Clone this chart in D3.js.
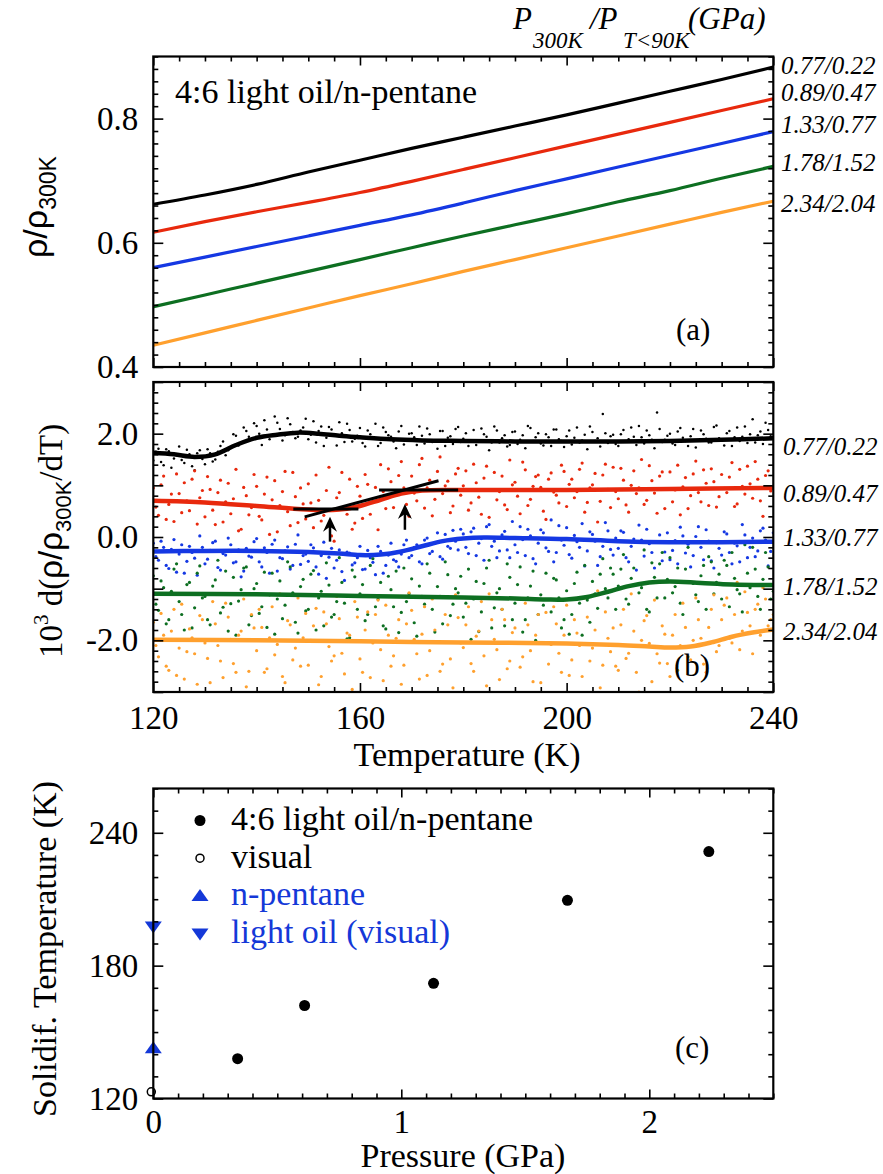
<!DOCTYPE html>
<html>
<head>
<meta charset="utf-8">
<script src="https://cdn.jsdelivr.net/npm/d3@7"></script>
<style>
  body { margin: 0; background: #fff; }
  svg text { font-family: "Liberation Serif", "Times New Roman", serif; fill: #000; }
</style>
</head>
<body>
<svg id="fig" width="883" height="1174"></svg>
<script>
// ---- panel (a): rho / rho_300K vs temperature ----
const tempGrid  = [120, 130, 140, 150, 160, 170, 180, 190, 200, 210, 220, 230, 240];
const rhoBlack  = [0.662, 0.677, 0.694, 0.714, 0.733, 0.752, 0.770, 0.788, 0.806, 0.825, 0.844, 0.863, 0.883];
const rhoRed    = [0.617, 0.634, 0.650, 0.665, 0.681, 0.699, 0.718, 0.737, 0.756, 0.775, 0.794, 0.813, 0.832];
const rhoBlue   = [0.560, 0.577, 0.594, 0.611, 0.628, 0.645, 0.664, 0.684, 0.703, 0.722, 0.741, 0.760, 0.779];
const rhoGreen  = [0.497, 0.516, 0.535, 0.554, 0.573, 0.592, 0.611, 0.629, 0.647, 0.666, 0.684, 0.704, 0.723];
const rhoOrange = [0.435, 0.455, 0.475, 0.495, 0.515, 0.534, 0.554, 0.573, 0.592, 0.611, 0.630, 0.649, 0.667];
const pressureLabels = ['0.77/0.22', '0.89/0.47', '1.33/0.77', '1.78/1.52', '2.34/2.04'];

// ---- panel (b): smoothed derivative (10^3 units, offset per run) ----
const fitBlackT  = [120, 124, 128, 132, 136, 140, 144, 148, 152, 156, 160, 166, 172, 180, 190, 200, 210, 220, 230, 240];
const fitBlack   = [1.63, 1.60, 1.55, 1.60, 1.78, 1.92, 1.98, 2.02, 2.00, 1.96, 1.93, 1.89, 1.87, 1.86, 1.85, 1.85, 1.85, 1.86, 1.88, 1.91];
const fitRedT    = [120, 130, 140, 148, 152, 156, 160, 164, 168, 172, 180, 200, 220, 240];
const fitRed     = [0.70, 0.67, 0.60, 0.54, 0.52, 0.53, 0.60, 0.72, 0.84, 0.90, 0.91, 0.91, 0.93, 0.95];
const fitBlueT   = [120, 130, 140, 150, 156, 160, 164, 168, 172, 176, 180, 184, 190, 200, 210, 220, 230, 240];
const fitBlue    = [-0.28, -0.27, -0.27, -0.29, -0.32, -0.35, -0.34, -0.28, -0.18, -0.08, -0.03, -0.01, -0.02, -0.04, -0.08, -0.10, -0.10, -0.09];
const fitGreenT  = [120, 140, 160, 180, 190, 196, 200, 204, 208, 212, 216, 220, 226, 232, 240];
const fitGreen   = [-1.10, -1.11, -1.14, -1.17, -1.19, -1.21, -1.21, -1.16, -1.06, -0.95, -0.88, -0.86, -0.89, -0.92, -0.93];
const fitOrangeT = [120, 140, 160, 180, 200, 210, 216, 220, 224, 228, 232, 236, 240];
const fitOrange  = [-1.99, -2.00, -2.02, -2.04, -2.06, -2.09, -2.12, -2.14, -2.12, -2.04, -1.93, -1.85, -1.79];

// raw points (x100): "A" sets at whole kelvins, "B" sets half a kelvin later
const dotTemps = d3.range(120, 241);
const dotTempsHalf = d3.range(120.5, 240, 1);
const dotsBlackA = [148,171,139,166,152,175,143,160,129,168, 141,162,150,176,158,173,196,182,205,189,
  215,178,208,196,221,187,230,203,194,212, 189,224,205,176,213,198,222,184,207,190,
  211,175,199,219,182,203,194,172,215,189, 201,178,196,210,184,171,205,192,180,213,
  190,176,207,185,199,168,214,183,197,178, 204,188,172,211,193,181,199,176,208,186,
  195,179,212,187,170,203,191,238,182,198, 176,207,189,194,215,181,197,172,209,188,
  200,178,211,186,195,173,206,190,183,216, 189,201,176,212,194,182,228,197,180,207, 193];
const dotsBlackB = [165,145,170,134,158,149,169,137,162,151, 170,146,165,185,168,199,177,212,194,220,
  200,226,189,233,209,197,218,191,206,229, 198,183,214,192,208,177,201,219,185,196,
  182,206,190,176,212,197,185,204,179,200, 193,214,181,199,187,205,176,195,209,184,
  201,187,178,210,194,183,206,191,175,203, 180,197,215,186,201,177,193,208,189,174,
  206,192,183,198,214,186,175,201,195,180, 199,185,212,178,193,206,188,241,184,196,
  181,204,192,176,209,187,199,183,213,191, 177,205,193,186,214,199,183,204,221,195];
const dotsRedA = [95,42,118,63,30,84,105,51,128,76, 39,92,24,110,68,45,131,15,80,57,
  98,33,116,72,10,88,49,125,28,64, 103,18,71,42,135,-8,86,58,112,27,
  79,121,44,96,140,55,107,82,146,63, 118,70,152,95,41,127,84,108,60,133,
  99,52,141,77,114,38,125,88,62,149, 106,45,130,73,117,96,34,124,81,139,
  59,112,88,143,67,101,29,120,92,135, 74,110,48,128,95,63,138,85,118,55,
  126,91,43,115,80,147,68,104,132,58, 121,86,144,64,98,137,75,112,40,128, 97];
const dotsRedB = [58,101,34,83,122,47,70,112,25,90, 117,52,86,29,104,74,12,96,43,121,
  40,83,5,109,61,127,22,78,95,35, 66,120,31,90,2,76,125,44,15,98,
  36,102,68,14,88,132,57,119,95,40, 85,140,56,110,73,155,99,47,122,81,
  128,66,105,44,137,90,72,118,53,101, 79,145,61,98,120,50,112,87,66,127,
  102,76,131,48,95,123,69,141,57,88, 133,62,100,84,150,71,109,46,126,93,
  68,139,97,55,122,86,130,61,107,78, 94,116,59,131,83,103,146,70,119,89];
const dotsBlueA = [-12,-45,-20,-61,-5,-33,-70,-18,-41,2, -52,-26,-8,-64,-35,-15,-48,-77,-22,-39,
  -3,-58,-30,-14,-66,-42,-19,-55,4,-36, -47,-21,-72,-10,-39,-60,-25,-84,-31,-50,
  -18,-62,-40,-73,-28,-55,-12,-47,-33,-6, -36,-15,-52,-2,-28,8,-43,-18,13,-25,
  6,-32,17,-12,-45,24,-8,-27,11,-40, -15,20,-36,2,-52,14,-21,33,-30,-6,
  18,-41,-9,26,-27,5,-55,-18,12,-35, -22,9,-48,-4,23,-37,-13,-60,4,-29,
  -44,-7,19,-31,-58,1,-20,14,-46,-11, -35,6,-52,-17,24,-40,-2,-27,17,-56, 8];
const dotsBlueB = [-38,-8,-55,-24,-68,-15,-47,-30,-74,-20, -43,-11,-59,-32,-2,-50,-25,-66,-37,-9,
  -48,-21,-70,-6,-40,-27,-62,-14,-53,-33, -15,-58,-36,-80,-22,-45,-67,-29,-54,-40,
  -63,-26,-49,-18,-70,-35,-44,-58,-15,-40, -20,-48,-6,-32,-12,-38,5,-22,-8,15,
  -20,10,-36,-3,20,-18,-40,4,-25,30, -30,-5,15,-42,-12,8,-28,-48,22,-16,
  -34,3,-20,-56,10,-8,-38,28,-24,-2, 12,-40,-18,-64,-6,15,-30,-10,-46,8,
  -26,-52,2,-14,-36,20,-44,-8,-60,-22, 10,-30,-12,-48,4,-20,-38,12,-6,-28];
const dotsGreenA = [-75,-142,-98,-160,-62,-125,-180,-88,-137,-56, -115,-170,-83,-147,-66,-129,-190,-102,-58,-152,
  -90,-135,-175,-70,-120,-158,-48,-108,-186,-82, -140,-65,-118,-172,-93,-150,-40,-128,-195,-77,
  -110,-162,-55,-135,-88,-178,-102,-66,-146,-125, -81,-192,-115,-52,-140,-96,-168,-73,-130,-108,
  -155,-62,-120,-183,-90,-45,-137,-100,-172,-78, -128,-58,-160,-95,-200,-112,-70,-145,-83,-176,
  -104,-150,-68,-190,-122,-86,-138,-42,-118,-72, -95,-34,-130,-60,-108,-25,-145,-78,-52,-118,
  -40,-96,-128,-62,-10,-112,-75,-140,-48,-88, -120,-55,-30,-102,-145,-70,-20,-115,-82,-58, -105];
const dotsGreenB = [-130,-85,-168,-105,-52,-150,-92,-176,-70,-118, -160,-95,-45,-136,-182,-78,-124,-60,-170,-100,
  -148,-68,-112,-188,-85,-132,-58,-165,-96,-143, -72,-180,-105,-50,-155,-125,-88,-197,-64,-140,
  -92,-150,-42,-120,-172,-76,-135,-185,-60,-110, -166,-95,-130,-70,-184,-115,-48,-152,-100,-76,
  -128,-198,-86,-145,-60,-176,-108,-140,-52,-160, -92,-184,-118,-66,-150,-132,-205,-80,-118,-160,
  -188,-90,-128,-55,-165,-110,-72,-100,-60,-140, -62,-120,-80,-10,-98,-140,-50,-118,-30,-82,
  -108,-60,-150,-20,-90,-125,-55,-38,-110,-72, -45,-135,-80,-110,-15,-98,-62,-140,-30,-120];
const dotsOrangeA = [-165,-232,-190,-258,-140,-215,-275,-178,-226,-152, -205,-282,-168,-240,-128,-198,-262,-182,-290,-150,
  -220,-175,-255,-135,-208,-270,-162,-238,-118,-195, -248,-172,-286,-145,-212,-230,-158,-265,-190,-125,
  -236,-180,-272,-150,-218,-132,-250,-196,-285,-168, -142,-226,-188,-268,-120,-204,-246,-170,-292,-156,
  -214,-135,-260,-182,-230,-110,-198,-276,-160,-240, -176,-252,-128,-220,-190,-282,-146,-208,-168,-262,
  -132,-238,-186,-270,-155,-215,-104,-248,-196,-176, -258,-140,-225,-182,-300,-162,-206,-122,-244,-188,
  -270,-150,-210,-175,-238,-118,-196,-262,-140,-222, -160,-118,-205,-88,-182,-146,-226,-130,-98,-172, -150];
const dotsOrangeB = [-210,-148,-250,-182,-268,-130,-222,-195,-285,-160, -235,-125,-210,-272,-155,-245,-190,-120,-260,-176,
  -140,-262,-195,-228,-110,-282,-170,-215,-250,-148, -200,-138,-270,-168,-240,-115,-225,-186,-295,-155,
  -262,-145,-205,-122,-278,-190,-230,-160,-248,-108, -198,-275,-135,-220,-180,-260,-150,-236,-112,-205,
  -170,-245,-192,-125,-288,-160,-218,-140,-255,-185, -120,-232,-170,-280,-150,-205,-246,-135,-225,-190,
  -268,-160,-210,-118,-240,-180,-292,-145,-222,-250, -170,-235,-110,-262,-200,-152,-280,-226,-172,-245,
  -190,-258,-128,-232,-200,-160,-246,-175,-112,-210, -132,-196,-150,-218,-106,-172,-140,-190,-120,-160];

// tangent construction on the red curve and the two arrows
const tangentSegments = [[[147.1, 0.54], [159.7, 0.54]], [[149.3, 0.39], [175.2, 1.09]], [[163.7, 0.91], [179.0, 0.91]]];
const arrowTemps = [154.2, 168.7];
const arrowTail  = [-0.09, 0.14];
const arrowTip   = [0.39, 0.64];

// ---- panel (c): solidification temperature vs pressure ----
const mixP = [0.34, 0.61, 1.13, 1.67, 2.24];
const mixT = [138, 162, 172, 209.5, 231.5];
const visualP = [0], visualT = [123];
const pentaneP = [0], pentaneT = [142.7];
const lightOilP = [0], lightOilT = [197.7];
const legendLabels = ['4:6 light oil/n-pentane', 'visual', 'n-pentane', 'light oil (visual)'];

const colors = ['#000000', '#e8290d', '#1538e3', '#0d6f21', '#ffa02e'];
const markBlue = '#1438d8';
const serif = '"Liberation Serif", "Times New Roman", serif';

const svg = d3.select('#fig');

const xA = d3.scaleLinear().domain([120, 240]).range([153.3, 773.3]);
const yA = d3.scaleLinear().domain([0.4, 0.9]).range([367, 56.5]);
const yB = d3.scaleLinear().domain([-3, 3]).range([692, 382]);
const xC = d3.scaleLinear().domain([0, 2.5]).range([153.3, 773.3]);
const yC = d3.scaleLinear().domain([120, 260]).range([1098.5, 788.5]);

function drawAxes(x, y, o) {
  const g = svg.append('g');
  const [x0, x1] = x.range();
  const [y0, y1] = y.range();
  const notIn = (list, major) => list.filter(v => !major.some(m => Math.abs(m - v) < 1e-9));
  const none = () => '';
  const add = (axis, tx, ty) => {
    const a = g.append('g').attr('transform', `translate(${tx},${ty})`).call(axis);
    a.select('.domain').remove();
    a.selectAll('line').attr('stroke', '#000').attr('stroke-width', 1.6);
    a.selectAll('text').attr('font-family', serif).attr('font-size', 33).attr('fill', '#000');
  };
  const xMinor = notIn(o.xMinor, o.xMajor);
  const yMinor = notIn(o.yMinor, o.yMajor);
  add(d3.axisBottom(x).tickValues(o.xMajor).tickSize(-9).tickPadding(o.xPad || 0).tickFormat(o.xFormat || none), 0, y0);
  add(d3.axisBottom(x).tickValues(xMinor).tickSize(-5).tickFormat(none), 0, y0);
  add(d3.axisTop(x).tickValues(o.xMajor).tickSize(-9).tickFormat(none), 0, y1);
  add(d3.axisTop(x).tickValues(xMinor).tickSize(-5).tickFormat(none), 0, y1);
  add(d3.axisLeft(y).tickValues(o.yMajor).tickSize(-10).tickPadding(15).tickFormat(o.yFormat || none), x0, 0);
  add(d3.axisLeft(y).tickValues(yMinor).tickSize(-5).tickFormat(none), x0, 0);
  add(d3.axisRight(y).tickValues(o.yMajor).tickSize(-10).tickFormat(none), x1, 0);
  add(d3.axisRight(y).tickValues(yMinor).tickSize(-5).tickFormat(none), x1, 0);
  g.append('rect')
    .attr('x', x0).attr('y', y1)
    .attr('width', x1 - x0).attr('height', y0 - y1)
    .attr('fill', 'none').attr('stroke', '#000').attr('stroke-width', 2.2);
}

function rotatedTitle(x, y, parts, size) {
  const t = svg.append('text')
    .attr('transform', `translate(${x},${y}) rotate(-90)`)
    .attr('font-size', size || 34);
  parts.forEach(p => {
    const s = t.append('tspan').text(p.text);
    if (p.dy) s.attr('dy', p.dy);
    if (p.size) s.attr('font-size', p.size);
    if (p.sans) s.attr('font-family', '"Liberation Sans", Arial, sans-serif');
  });
}

// ---------- panel (a) ----------
const rhoSeries = [rhoBlack, rhoRed, rhoBlue, rhoGreen, rhoOrange];
const lineA = d3.line().x(d => xA(d[0])).y(d => yA(d[1])).curve(d3.curveMonotoneX);
rhoSeries.forEach((vals, i) => {
  svg.append('path')
    .datum(tempGrid.map((t, k) => [t, vals[k]]))
    .attr('fill', 'none')
    .attr('stroke', colors[i])
    .attr('stroke-width', 3.2)
    .attr('d', lineA);
});
drawAxes(xA, yA, {
  xMajor: [120, 160, 200, 240], xMinor: d3.range(120, 241, 5),
  yMajor: [0.4, 0.6, 0.8], yMinor: d3.range(0.4, 0.901, 0.02),
  yFormat: d3.format('.1f')
});
svg.append('text').attr('x', 175).attr('y', 103).attr('font-size', 34).text('4:6 light oil/n-pentane');
svg.append('text').attr('x', 676).attr('y', 340).attr('font-size', 31).text('(a)');
const labelYA = [74, 101, 133, 171, 212];
pressureLabels.forEach((s, i) => {
  svg.append('text').attr('x', 781).attr('y', labelYA[i])
    .attr('font-size', 25).attr('font-style', 'italic').text(s);
});
rotatedTitle(47, 258, [
  { text: 'ρ/ρ', sans: true },
  { text: '300K', size: 23, dy: 9, sans: true }
]);

// header P300K/PT<90K(GPa)
const head = svg.append('g');
head.append('text').attr('x', 513).attr('y', 29).attr('font-size', 31).attr('font-style', 'italic').text('P');
head.append('text').attr('x', 533).attr('y', 48).attr('font-size', 23).attr('font-style', 'italic').text('300K');
head.append('text').attr('x', 590).attr('y', 29).attr('font-size', 31).attr('font-style', 'italic').text('/P');
head.append('text').attr('x', 623).attr('y', 48).attr('font-size', 23).attr('font-style', 'italic').text('T<90K');
head.append('text').attr('x', 688).attr('y', 29).attr('font-size', 31).attr('font-style', 'italic').text('(GPa)');

// ---------- panel (b) ----------
svg.append('clipPath').attr('id', 'clipB')
  .append('rect').attr('x', xA(120)).attr('y', yB(3)).attr('width', xA(240) - xA(120)).attr('height', yB(-3) - yB(3));
const gB = svg.append('g').attr('clip-path', 'url(#clipB)');

const dotSets = [
  { vals: dotsBlackA, temps: dotTemps, c: 0, r: 1.25 },
  { vals: dotsBlackB, temps: dotTempsHalf, c: 0, r: 1.25 },
  { vals: dotsRedA, temps: dotTemps, c: 1, r: 1.6 },
  { vals: dotsRedB, temps: dotTempsHalf, c: 1, r: 1.6 },
  { vals: dotsBlueA, temps: dotTemps, c: 2, r: 1.6 },
  { vals: dotsBlueB, temps: dotTempsHalf, c: 2, r: 1.6 },
  { vals: dotsGreenA, temps: dotTemps, c: 3, r: 1.6 },
  { vals: dotsGreenB, temps: dotTempsHalf, c: 3, r: 1.6 },
  { vals: dotsOrangeA, temps: dotTemps, c: 4, r: 1.6 },
  { vals: dotsOrangeB, temps: dotTempsHalf, c: 4, r: 1.6 }
];
dotSets.forEach(set => {
  gB.append('g').selectAll('circle')
    .data(set.vals)
    .enter()
    .append('circle')
    .attr('cx', (d, k) => xA(set.temps[k]))
    .attr('cy', d => yB(d / 100))
    .attr('r', set.r)
    .attr('fill', colors[set.c]);
});

const fits = [[fitBlackT, fitBlack], [fitRedT, fitRed], [fitBlueT, fitBlue], [fitGreenT, fitGreen], [fitOrangeT, fitOrange]];
const lineB = d3.line().x(d => xA(d[0])).y(d => yB(d[1])).curve(d3.curveCatmullRom.alpha(0.5));
fits.forEach(([ts, vs], i) => {
  gB.append('path')
    .datum(ts.map((t, k) => [t, vs[k]]))
    .attr('fill', 'none')
    .attr('stroke', colors[i])
    .attr('stroke-width', 4.5)
    .attr('stroke-linecap', 'round')
    .attr('d', lineB);
});

tangentSegments.forEach(seg => {
  svg.append('line')
    .attr('x1', xA(seg[0][0])).attr('y1', yB(seg[0][1]))
    .attr('x2', xA(seg[1][0])).attr('y2', yB(seg[1][1]))
    .attr('stroke', '#000').attr('stroke-width', 3);
});
arrowTemps.forEach((t, i) => {
  const x = xA(t), yTip = yB(arrowTip[i]), yTail = yB(arrowTail[i]);
  svg.append('line').attr('x1', x).attr('x2', x).attr('y1', yTip + 8).attr('y2', yTail)
    .attr('stroke', '#000').attr('stroke-width', 2.5);
  svg.append('path')
    .attr('d', `M${x},${yTip} L${x + 7},${yTip + 15} L${x},${yTip + 10} L${x - 7},${yTip + 15} Z`)
    .attr('fill', '#000');
});

drawAxes(xA, yB, {
  xMajor: [120, 160, 200, 240], xMinor: d3.range(120, 241, 5), xPad: 14,
  xFormat: d => String(d),
  yMajor: [-3, -2, -1, 0, 1, 2, 3], yMinor: d3.range(-3, 3.001, 0.2),
  yFormat: d => (Math.abs(d) === 2 || d === 0) ? d.toFixed(1) : ''
});
svg.append('text').attr('x', 674).attr('y', 676).attr('font-size', 31).text('(b)');
const labelYB = [455, 502, 546, 595, 640];
pressureLabels.forEach((s, i) => {
  svg.append('text').attr('x', 783).attr('y', labelYB[i])
    .attr('font-size', 25).attr('font-style', 'italic').text(s);
});
rotatedTitle(62, 658, [
  { text: '10' },
  { text: '3', size: 21, dy: -14 },
  { text: ' d(', dy: 14 },
  { text: 'ρ/ρ', sans: true },
  { text: '300K', size: 22, dy: 9, sans: true },
  { text: '/dT)', dy: -9 }
], 33);
svg.append('text').attr('x', 467).attr('y', 766).attr('text-anchor', 'middle')
  .attr('font-size', 34).text('Temperature (K)');

// ---------- panel (c) ----------
const triUp = 'M0,-7 L8.5,5 L-8.5,5 Z';
const triDown = 'M0,7 L8.5,-5 L-8.5,-5 Z';

svg.append('g').selectAll('circle')
  .data(mixP)
  .enter()
  .append('circle')
  .attr('cx', d => xC(d))
  .attr('cy', (d, i) => yC(mixT[i]))
  .attr('r', 5.5)
  .attr('fill', '#000');
svg.append('g').selectAll('circle')
  .data(visualP)
  .enter()
  .append('circle')
  .attr('cx', d => xC(d) - 2)
  .attr('cy', (d, i) => yC(visualT[i]))
  .attr('r', 4)
  .attr('fill', '#fff')
  .attr('stroke', '#000')
  .attr('stroke-width', 1.5);
svg.append('g').selectAll('path')
  .data(pentaneP)
  .enter()
  .append('path')
  .attr('transform', (d, i) => `translate(${xC(d)},${yC(pentaneT[i])})`)
  .attr('d', triUp)
  .attr('fill', markBlue);
svg.append('g').selectAll('path')
  .data(lightOilP)
  .enter()
  .append('path')
  .attr('transform', (d, i) => `translate(${xC(d)},${yC(lightOilT[i])})`)
  .attr('d', triDown)
  .attr('fill', markBlue);

drawAxes(xC, yC, {
  xMajor: [0, 1, 2], xMinor: d3.range(0, 2.501, 0.1), xPad: 11,
  xFormat: d => String(d),
  yMajor: [120, 180, 240], yMinor: d3.range(120, 261, 10),
  yFormat: d => String(d)
});

// legend
const legendMarks = [
  g => g.append('circle').attr('r', 5.5).attr('fill', '#000'),
  g => g.append('circle').attr('r', 4).attr('fill', '#fff').attr('stroke', '#000').attr('stroke-width', 1.5),
  g => g.append('path').attr('d', triUp).attr('fill', markBlue),
  g => g.append('path').attr('d', triDown).attr('fill', markBlue)
];
const legendText = ['#000', '#000', markBlue, markBlue];
legendLabels.forEach((s, i) => {
  const base = 830 + i * 37.7;
  legendMarks[i](svg.append('g').attr('transform', `translate(200,${base - 9.5})`));
  svg.append('text').attr('x', 231).attr('y', base).attr('font-size', 34)
    .style('fill', legendText[i]).text(s);
});
svg.append('text').attr('x', 675).attr('y', 1058).attr('font-size', 31).text('(c)');
rotatedTitle(56, 1117, [{ text: 'Solidif. Temperature (K)' }]);
svg.append('text').attr('x', 463).attr('y', 1167).attr('text-anchor', 'middle')
  .attr('font-size', 34).text('Pressure (GPa)');
</script>
</body>
</html>
